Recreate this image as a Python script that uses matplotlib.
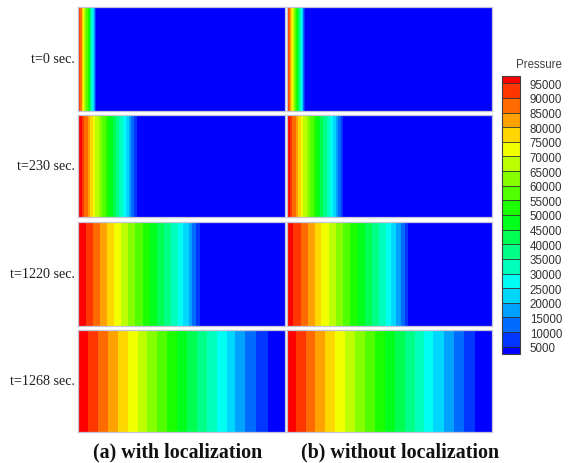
import numpy as np
import matplotlib
matplotlib.use("Agg")
import matplotlib.pyplot as plt
from matplotlib.colors import ListedColormap, BoundaryNorm
import matplotlib as mpl

# Contour levels (Pa)
levels = [95000, 90000, 85000, 80000, 75000, 70000, 65000, 60000, 55000, 50000,
          45000, 40000, 35000, 30000, 25000, 20000, 15000, 10000, 5000]
p_left_end = 100000   # pressure at inlet (x = 0)
p_right_end = 0       # pressure far downstream (x = 1)

times = ["t=0 sec.", "t=230 sec.", "t=1220 sec.", "t=1268 sec."]
captions = ["(a) with localization", "(b) without localization"]

# Normalised x-positions where the pressure crosses each level (95000 ... 5000)
with_loc_t0 = [0.006, 0.012, 0.017, 0.021, 0.024, 0.029, 0.034, 0.041, 0.046, 0.051,
               0.056, 0.060, 0.065, 0.070, 0.074, 0.077, 0.081, 0.084, 0.087]
with_loc_t230 = [0.019, 0.030, 0.047, 0.058, 0.071, 0.084, 0.100, 0.116, 0.135, 0.151,
                 0.168, 0.184, 0.200, 0.216, 0.232, 0.245, 0.258, 0.271, 0.284]
with_loc_t1220 = [0.039, 0.071, 0.106, 0.139, 0.172, 0.208, 0.240, 0.277, 0.313, 0.348,
                  0.382, 0.417, 0.449, 0.482, 0.509, 0.535, 0.553, 0.570, 0.587]
with_loc_t1268 = [0.047, 0.095, 0.143, 0.191, 0.240, 0.288, 0.333, 0.381, 0.429, 0.477,
                  0.526, 0.574, 0.622, 0.670, 0.719, 0.759, 0.807, 0.860, 0.920]

without_loc_t0 = [0.006, 0.012, 0.017, 0.021, 0.025, 0.030, 0.035, 0.041, 0.046, 0.051,
                  0.056, 0.061, 0.066, 0.071, 0.075, 0.078, 0.082, 0.085, 0.088]
without_loc_t230 = [0.018, 0.029, 0.046, 0.057, 0.069, 0.082, 0.098, 0.113, 0.132, 0.147,
                    0.164, 0.180, 0.195, 0.211, 0.226, 0.239, 0.252, 0.265, 0.277]
without_loc_t1220 = [0.034, 0.070, 0.104, 0.137, 0.169, 0.205, 0.240, 0.275, 0.311, 0.346,
                     0.381, 0.416, 0.449, 0.482, 0.509, 0.535, 0.558, 0.575, 0.590]
without_loc_t1268 = [0.046, 0.094, 0.140, 0.189, 0.236, 0.285, 0.333, 0.382, 0.431, 0.480,
                     0.528, 0.577, 0.626, 0.667, 0.715, 0.764, 0.813, 0.862, 0.919]

columns = [
    [with_loc_t0, with_loc_t230, with_loc_t1220, with_loc_t1268],
    [without_loc_t0, without_loc_t230, without_loc_t1220, without_loc_t1268],
]

# Band colours (low -> high), Tecplot-like small rainbow
band_colors = ["#0000ff", "#0036ff", "#006bff", "#00a1ff", "#00d7ff",
               "#00fff2", "#00ffbc", "#00ff86", "#00ff51", "#00ff1b",
               "#1bff00", "#51ff00", "#86ff00", "#bcff00", "#f2ff00",
               "#ffd700", "#ffa100", "#ff6b00", "#ff3600", "#ff0000"]

W, H = 570, 464
fig = plt.figure(figsize=(W / 100, H / 100), dpi=100)

col_x = [(78, 285), (286.5, 492)]
row_y = [(8, 111.5), (116, 218), (223, 326.5), (330.5, 433)]
caption_x = [178, 400]

fill_levels = [-1e6] + sorted(levels) + [1e6]

for c, (x0, x1) in enumerate(col_x):
    for r, (y0, y1) in enumerate(row_y):
        ax = fig.add_axes([x0 / W, 1 - y1 / H, (x1 - x0) / W, (y1 - y0) / H])
        xs = np.array([0.0] + columns[c][r] + [1.0])
        zs = np.array([p_left_end] + levels + [p_right_end], dtype=float)
        X, Y = np.meshgrid(xs, [0.0, 1.0])
        Z = np.vstack([zs, zs])
        ax.contourf(X, Y, Z, levels=fill_levels, colors=band_colors)
        ax.set_xlim(0, 1)
        ax.set_ylim(0, 1)
        ax.set_xticks([])
        ax.set_yticks([])
        for s in ax.spines.values():
            s.set_color("#c4c4d8")
            s.set_linewidth(0.9)
        if c == 0:
            fig.text(75 / W, 1 - ((y0 + y1) / 2) / H, times[r], ha="right", va="center",
                     family="Liberation Serif", fontsize=10.2, color="#202020")
    fig.text(caption_x[c] / W, 1 - 452 / H, captions[c], ha="center", va="center",
             family="Liberation Serif", fontweight="bold", fontsize=14.4, color="#111111")

# Colour legend
cax = fig.add_axes([502 / W, 1 - 355 / H, 18 / W, 278 / H])
bounds = [2500] + sorted(levels) + [97500]
cmap = ListedColormap(band_colors)
norm = BoundaryNorm(bounds, cmap.N)
cb = mpl.colorbar.ColorbarBase(cax, cmap=cmap, norm=norm, boundaries=bounds,
                               ticks=sorted(levels), drawedges=True,
                               spacing="proportional")
cb.outline.set_edgecolor("#404040")
cb.outline.set_linewidth(0.8)
cb.dividers.set_color("#303030")
cb.dividers.set_linewidth(0.6)
cax.minorticks_off()
cax.tick_params(which="both", length=0, pad=7, labelsize=8.3, labelcolor="#303030")
for t in cax.get_yticklabels():
    t.set_family("Liberation Sans")
fig.text(562 / W, 1 - 65 / H, "Pressure", ha="right", va="center",
         family="Liberation Sans", fontsize=8.3, color="#404040")

fig.savefig("out.png", dpi=100)
